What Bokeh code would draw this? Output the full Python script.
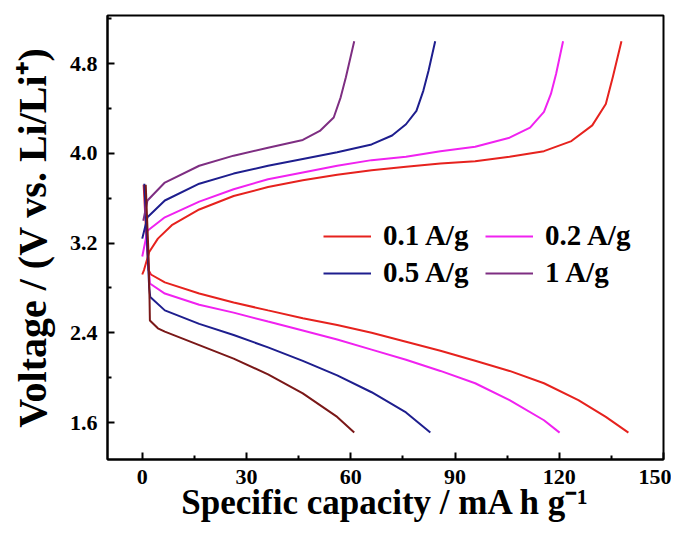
from bokeh.plotting import figure
from bokeh.models import FixedTicker, Range1d, Legend, LegendItem, PrintfTickFormatter
from bokeh.embed import file_html
from bokeh.resources import INLINE

# ---------------- data ----------------
labels = ["0.1 A/g", "0.2 A/g", "0.5 A/g", "1 A/g"]

c01_charge_x = [0.0, 0.5, 2.0, 4.5, 8.5, 16.4, 26.3, 36.2, 46.2, 56.1, 66.0, 75.9, 85.8, 95.8, 105.7, 115.6, 123.5, 129.5, 133.4, 135.4, 137.9]
c01_charge_y = [2.92, 2.96, 3.12, 3.24, 3.36, 3.50, 3.62, 3.70, 3.76, 3.81, 3.85, 3.88, 3.91, 3.93, 3.97, 4.02, 4.11, 4.25, 4.44, 4.68, 5.00]
c01_dis_x = [0.4, 1.2, 1.8, 2.5, 6.5, 16.4, 26.3, 36.2, 46.2, 56.1, 66.0, 75.9, 85.8, 95.8, 105.7, 115.6, 125.5, 133.4, 139.9]
c01_dis_y = [3.72, 3.25, 2.96, 2.92, 2.85, 2.75, 2.67, 2.60, 2.53, 2.47, 2.40, 2.32, 2.24, 2.15, 2.06, 1.95, 1.80, 1.65, 1.51]

c02_charge_x = [0.0, 1.5, 6.5, 16.4, 26.3, 36.2, 46.2, 56.1, 66.0, 75.9, 85.8, 95.8, 105.7, 111.6, 115.6, 117.6, 119.1, 121.1]
c02_charge_y = [3.08, 3.31, 3.43, 3.57, 3.68, 3.77, 3.83, 3.89, 3.94, 3.97, 4.02, 4.06, 4.14, 4.23, 4.37, 4.53, 4.71, 5.00]
c02_dis_x = [0.8, 1.6, 2.2, 6.5, 16.4, 26.3, 36.2, 46.2, 56.1, 66.0, 75.9, 85.8, 95.8, 105.7, 115.6, 120.1]
c02_dis_y = [3.60, 3.10, 2.84, 2.75, 2.65, 2.58, 2.50, 2.42, 2.34, 2.25, 2.16, 2.06, 1.95, 1.80, 1.62, 1.51]

c05_charge_x = [0.0, 1.5, 6.5, 16.4, 26.3, 36.2, 46.2, 56.1, 66.0, 71.9, 75.9, 78.9, 80.9, 82.4, 84.3]
c05_charge_y = [3.24, 3.43, 3.58, 3.73, 3.82, 3.89, 3.95, 4.01, 4.08, 4.16, 4.26, 4.38, 4.56, 4.74, 5.00]
c05_dis_x = [0.6, 1.4, 2.0, 2.3, 6.5, 16.4, 26.3, 36.2, 46.2, 56.1, 66.0, 75.9, 82.9]
c05_dis_y = [3.73, 3.20, 2.80, 2.72, 2.60, 2.48, 2.38, 2.27, 2.15, 2.02, 1.87, 1.69, 1.51]

c1_charge_x = [0.3, 1.5, 6.5, 16.4, 26.3, 36.2, 46.2, 51.1, 55.1, 57.1, 58.6, 61.0]
c1_charge_y = [3.40, 3.58, 3.74, 3.89, 3.98, 4.05, 4.12, 4.20, 4.32, 4.50, 4.68, 5.00]
c1_dis_x = [1.0, 1.8, 2.1, 2.2, 4.5, 6.5, 16.4, 26.3, 36.2, 46.2, 56.1, 61.0]
c1_dis_y = [3.72, 3.10, 2.70, 2.51, 2.44, 2.41, 2.29, 2.17, 2.03, 1.86, 1.65, 1.51]

x_ticks = [0, 30, 60, 90, 120, 150]
x_minor = [15, 45, 75, 105, 135]
y_ticks = [1.6, 2.4, 3.2, 4.0, 4.8]
y_minor = [1.2, 2.0, 2.8, 3.6, 4.4, 5.2]

x_title = "Specific capacity / mA h g\u207B\u00B9"
y_title = "Voltage / (V vs. Li/Li\u207A)"

colors = ["#E6221E", "#F022F0", "#1E1E8E", "#7E2E82"]
dis_1_color = "#7A1818"

FONT = "Liberation Serif"

p = figure(width=671, height=524, output_backend="svg", toolbar_location=None,
           x_range=Range1d(-10, 150), y_range=Range1d(1.27, 5.23),
           min_border_left=107, min_border_right=8, min_border_top=15, min_border_bottom=65)
p.background_fill_color = "white"
p.border_fill_color = "white"
p.grid.visible = False
p.outline_line_color = "black"
p.outline_line_width = 2
p.outline_line_alpha = 1.0

p.xaxis.ticker = FixedTicker(ticks=x_ticks, minor_ticks=x_minor)
p.yaxis.ticker = FixedTicker(ticks=y_ticks, minor_ticks=y_minor)
p.yaxis.formatter = PrintfTickFormatter(format="%.1f")

for ax in (p.xaxis, p.yaxis):
    ax.axis_line_width = 2
    ax.major_tick_line_width = 2
    ax.minor_tick_line_width = 2
    ax.major_tick_in = 7
    ax.major_tick_out = 0
    ax.minor_tick_in = 4
    ax.minor_tick_out = 0
    ax.major_label_text_font = FONT
    ax.major_label_text_font_style = "bold"
    ax.major_label_text_font_size = "22px"
    ax.major_label_text_color = "black"
    ax.axis_label_text_font = FONT
    ax.axis_label_text_font_style = "bold"
    ax.axis_label_text_color = "black"

p.yaxis.axis_label = y_title
p.yaxis.axis_label_text_font_size = "40px"
p.yaxis.major_label_standoff = 10
p.yaxis.axis_label_standoff = 12

p.xaxis.axis_label = x_title
p.xaxis.axis_label_text_font_size = "35px"
p.xaxis.major_label_standoff = 10
p.xaxis.axis_label_standoff = -4

charges = [(c01_charge_x, c01_charge_y), (c02_charge_x, c02_charge_y),
           (c05_charge_x, c05_charge_y), (c1_charge_x, c1_charge_y)]
discharges = [(c01_dis_x, c01_dis_y), (c02_dis_x, c02_dis_y),
              (c05_dis_x, c05_dis_y), (c1_dis_x, c1_dis_y)]
dis_colors = [colors[0], colors[1], colors[2], dis_1_color]

items = []
for i in range(4):
    r = p.line(charges[i][0], charges[i][1], line_color=colors[i], line_width=2)
    p.line(discharges[i][0], discharges[i][1], line_color=dis_colors[i], line_width=2)
    items.append(LegendItem(label=labels[i], renderers=[r]))

legend = Legend(items=items, location=(216, 170), orientation="horizontal", ncols=2)
legend.border_line_color = None
legend.background_fill_alpha = 0
legend.padding = 0
legend.margin = 0
legend.spacing = 4
legend.glyph_width = 48
legend.glyph_height = 30
legend.label_height = 30
legend.label_width = 98
legend.label_standoff = 12
legend.label_text_font = FONT
legend.label_text_font_style = "bold"
legend.label_text_font_size = "29px"
legend.label_text_color = "black"
p.add_layout(legend)

open("out.html", "w").write(file_html(p, INLINE))
